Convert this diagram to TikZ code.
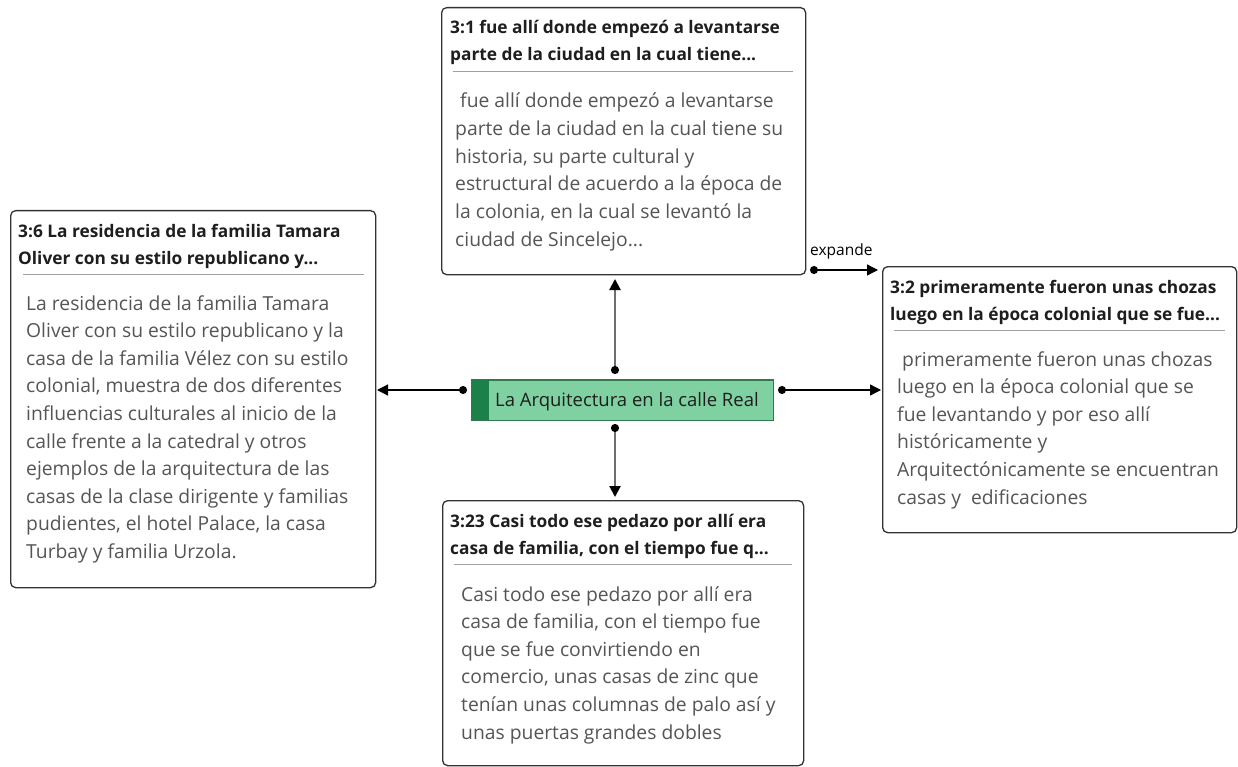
\documentclass[tikz,border=0pt]{standalone}
\usepackage{fontspec}
\setmainfont{Open Sans}
\usetikzlibrary{arrows.meta,calc}
\definecolor{boxline}{HTML}{333333}
\definecolor{sepline}{HTML}{A0A0A0}
\definecolor{hdrtext}{HTML}{1E1E1E}
\definecolor{bodytext}{HTML}{555555}
\definecolor{cfill}{HTML}{80D1A2}
\definecolor{cstrip}{HTML}{1B8049}
\definecolor{cborder}{HTML}{2F7A4E}
\definecolor{vline}{HTML}{6E6E6E}
\tikzset{
  card/.style={draw=boxline, line width=1.3pt, rounded corners=5pt, fill=white, inner sep=0pt, anchor=north west},
  hdr/.style={anchor=base west, inner sep=0pt, align=left, text=hdrtext, font=\fontsize{17.3}{27}\selectfont\bfseries},
  body/.style={anchor=base west, inner sep=0pt, align=left, text=bodytext, font=\fontsize{19.3}{27.6}\selectfont},
  sepl/.style={draw=sepline, line width=1pt},
  hconn/.style={draw=black, line width=1.3pt, arrows={Circle[length=8pt]-Triangle[length=11pt,width=11pt]}},
  vconn/.style={draw=vline, line width=2.2pt, arrows={Circle[length=8pt,color=black,fill=black]-Triangle[length=11pt,width=11pt,color=black,fill=black]}},
  central/.style={draw=cborder, fill=cfill, line width=0.8pt, minimum width=301pt, minimum height=40pt, inner sep=0pt},
  lbl/.style={inner sep=0pt, font=\fontsize{15.5}{18}\selectfont, text=black}
}
\begin{document}
\begin{tikzpicture}[x=1pt,y=-1pt]
\useasboundingbox[fill=white] (0,0) rectangle (1238,767);

% top box 3:1
\node[card, minimum width=364pt, minimum height=267pt] (b1) at (441,7) {};
\node[hdr] (b1h) at (450,61) {3:1 fue allí donde empezó a levantarse\\parte de la ciudad en la cual tiene...};
\draw[sepl] ($(b1.north west)+(12,65)$) -- ($(b1.north east)+(-13,65)$);
\node[body] (b1b) at (455,246) {\ fue allí donde empezó a levantarse\\parte de la ciudad en la cual tiene su\\historia, su parte cultural y\\estructural de acuerdo a la época de\\la colonia, en la cual se levantó la\\ciudad de Sincelejo...};

% left box 3:6
\node[card, minimum width=365pt, minimum height=377pt] (b6) at (10,210) {};
\node[hdr] (b6h) at (18,264) {3:6 La residencia de la familia Tamara\\Oliver con su estilo republicano y...};
\draw[sepl] ($(b6.north west)+(13,64)$) -- ($(b6.north east)+(-12,64)$);
\node[body] (b6b) at (26,558.4) {La residencia de la familia Tamara\\Oliver con su estilo republicano y la\\casa de la familia Vélez con su estilo\\colonial, muestra de dos diferentes\\influencias culturales al inicio de la\\calle frente a la catedral y otros\\ejemplos de la arquitectura de las\\casas de la clase dirigente y familias\\pudientes, el hotel Palace, la casa\\Turbay y familia Urzola.};

% right box 3:2
\node[card, minimum width=354pt, minimum height=266pt] (b2) at (882,266) {};
\node[hdr] (b2h) at (890,320) {3:2 primeramente fueron unas chozas\\luego en la época colonial que se fue...};
\draw[sepl] ($(b2.north west)+(12,64)$) -- ($(b2.north east)+(-12,64)$);
\node[body] (b2b) at (897,504) {\ primeramente fueron unas chozas\\luego en la época colonial que se\\fue levantando y por eso allí\\históricamente y\\Arquitectónicamente se encuentran\\casas y \ edificaciones};

% bottom box 3:23
\node[card, minimum width=361pt, minimum height=265pt] (b23) at (442,500) {};
\node[hdr] (b23h) at (450,554) {3:23 Casi todo ese pedazo por allí era\\casa de familia, con el tiempo fue q...};
\draw[sepl] ($(b23.north west)+(12,64)$) -- ($(b23.north east)+(-12,64)$);
\node[body] (b23b) at (461,739) {Casi todo ese pedazo por allí era\\casa de familia, con el tiempo fue\\que se fue convirtiendo en\\comercio, unas casas de zinc que\\tenían unas columnas de palo así y\\unas puertas grandes dobles};

% central node
\node[central] (c) at (622.5,400) {};
\fill[cstrip] (c.north west) rectangle ($(c.south west)+(17,0)$);
\draw[cborder, line width=0.8pt] (c.north west) rectangle (c.south east);
\node[inner sep=0pt, anchor=base west, text=hdrtext, font=\fontsize{18.5}{22}\selectfont] (ct) at (495,406) {La Arquitectura en la calle Real};

% connectors
\coordinate (cu) at (615,374); \coordinate (tu) at (615,279);
\coordinate (cd) at (615,424); \coordinate (td) at (615,497);
\coordinate (cr) at (778,390); \coordinate (tr) at (881,390);
\coordinate (cl) at (467,390); \coordinate (tl) at (377,390);
\coordinate (ce) at (810,270); \coordinate (te) at (878,270);
\draw[vconn] (cu) -- (tu);
\draw[vconn] (cd) -- (td);
\draw[hconn] (cr) -- (tr);
\draw[hconn] (cl) -- (tl);
\draw[hconn] (ce) -- (te);
\node[lbl, anchor=base west] (le) at (810,255) {expande};
\end{tikzpicture}
\end{document}
